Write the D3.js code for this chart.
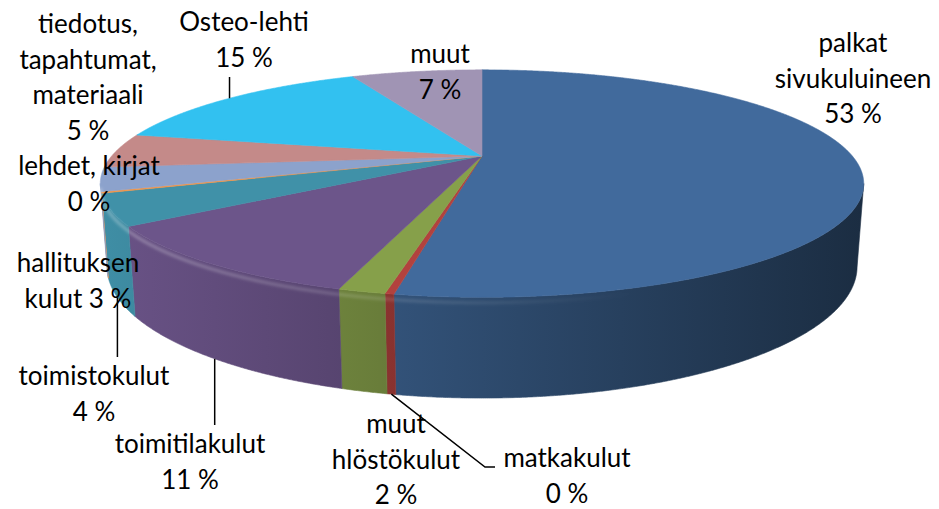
<!DOCTYPE html>
<html>
<head>
<meta charset="utf-8">
<script src="https://cdn.jsdelivr.net/npm/d3@7"></script>
<style>
  body { margin: 0; background: #fff; }
  svg { display: block; }
  text { font-family: Lato, "Open Sans", sans-serif; font-size: 26px; fill: #000; }
</style>
</head>
<body>
<svg></svg>
<script>
// data (clockwise from 12 o'clock, as in the Excel chart)
const categories = ["palkat sivukuluineen", "matkakulut", "muut hlöstökulut", "toimitilakulut",
  "toimistokulut", "lehdet, kirjat", "hallituksen kulut", "tiedotus, tapahtumat, materiaali",
  "Osteo-lehti", "muut"];
const values = [52.9, 0.3, 1.6, 10.6, 4.4, 0.2, 3.4, 4.9, 14.7, 7.0];
const colors = ["#416a9c", "#b2423e", "#86a04a", "#6c558a", "#4091a8", "#f79646",
  "#8ca2cc", "#c48a89", "#32c1f0", "#a094b4"];

// label wrapping as in the picture
const labelLines = [
  ["palkat", "sivukuluineen"], ["matkakulut"], ["muut", "hlöstökulut"], ["toimitilakulut"],
  ["toimistokulut"], ["lehdet, kirjat"], ["hallituksen", "kulut"],
  ["tiedotus,", "tapahtumat,", "materiaali"], ["Osteo-lehti"], ["muut"]
];

const w = 939, h = 509;
const svg = d3.select("svg").attr("width", w).attr("height", h);
const defs = svg.append("defs");

// perspective view of the pie
const cx = 482, cy = 156, F = 1462, D = 3.948;
const tilt = 16.8 * Math.PI / 180;
const s = Math.sin(tilt), c = Math.cos(tilt);
const H = 0.2267; // thickness, in radius units

function project(theta, y) {
  const x = Math.sin(theta), z = Math.cos(theta);
  const depth = D + c * z - s * y;
  return [cx + F * x / depth, cy - F * (c * y + s * z) / depth];
}
function rim(a0, a1, y) {
  const n = Math.max(2, Math.ceil((a1 - a0) / 0.004));
  return d3.range(n + 1).map(i => project(a0 + (a1 - a0) * i / n, y));
}

const data = categories.map((name, i) => ({ name: name, value: values[i], color: colors[i], lines: labelLines[i] }));
const total = d3.sum(values);
const arcs = d3.pie().sort(null).value(d => d.value)(data);

const line = d3.line();
const vis0 = Math.acos(-c / D), vis1 = 2 * Math.PI - vis0;

// shading of the side wall, lighter on the left
const shade = d3.scaleLinear().domain([100, 380, 862]).range([0.98, 0.78, 0.42]);
arcs.forEach((a, i) => {
  const g = defs.append("linearGradient").attr("id", "wall" + i)
    .attr("gradientUnits", "userSpaceOnUse")
    .attr("x1", 100).attr("x2", 862).attr("y1", 0).attr("y2", 0);
  const col = d3.rgb(a.data.color);
  [100, 380, 862].forEach(px => {
    const k = shade(px);
    g.append("stop").attr("offset", (px - 100) / 762)
      .attr("stop-color", d3.rgb(col.r * k, col.g * k, col.b * k));
  });
});

const hi = defs.append("linearGradient").attr("id", "rimHi")
  .attr("gradientUnits", "userSpaceOnUse").attr("x1", 100).attr("x2", 862).attr("y1", 0).attr("y2", 0);
hi.append("stop").attr("offset", 0).attr("stop-color", "#fff").attr("stop-opacity", 0.3);
hi.append("stop").attr("offset", 0.45).attr("stop-color", "#fff").attr("stop-opacity", 0.12);
hi.append("stop").attr("offset", 0.7).attr("stop-color", "#fff").attr("stop-opacity", 0);
defs.append("filter").attr("id", "blur").append("feGaussianBlur").attr("stdDeviation", 1.5);

// side walls
const walls = svg.append("g");
arcs.forEach((a, i) => {
  const a0 = Math.max(a.startAngle, vis0), a1 = Math.min(a.endAngle, vis1);
  if (a1 <= a0) return;
  const pts = rim(a0, a1, 0).concat(rim(a0, a1, -H).reverse());
  walls.append("path").attr("d", line(pts) + "Z")
    .attr("fill", "url(#wall" + i + ")")
    .attr("stroke", "url(#wall" + i + ")").attr("stroke-width", 0.6);
});

// top faces
const tops = svg.append("g");
arcs.forEach(a => {
  const pts = [[cx, cy]].concat(rim(a.startAngle, a.endAngle, 0));
  tops.append("path").attr("d", line(pts) + "Z")
    .attr("fill", a.data.color).attr("stroke", a.data.color).attr("stroke-width", 0.6);
});

// soft highlight along the front edge
svg.append("path").attr("d", line(rim(vis0, vis1, -0.012)))
  .attr("fill", "none").attr("stroke", "url(#rimHi)").attr("stroke-width", 3)
  .attr("filter", "url(#blur)");

// label placement (x centre, first baseline), leader ends
const labelPos = [
  { x: 853, y: 52 },
  { x: 567, y: 467, leader: [[485, 467], [495, 467]] },
  { x: 396, y: 433 },
  { x: 190, y: 453, leader: [[null, 425]] },
  { x: 94, y: 385, leader: [[null, 357]] },
  { x: 89, y: 175 },
  { x: 78, y: 272, inline: true },
  { x: 88, y: 33 },
  { x: 244, y: 31, leader: [[null, 77]] },
  { x: 440, y: 63 }
];
const lh = 35.5;

const leaders = svg.append("g").attr("fill", "none").attr("stroke", "#000").attr("stroke-width", 1.5);
const labels = svg.append("g").attr("text-anchor", "middle");
arcs.forEach((a, i) => {
  const pos = labelPos[i];
  const pct = Math.round(a.data.value / total * 100) + " %";
  const lines = a.data.lines.slice();
  if (pos.inline) lines[lines.length - 1] += " " + pct; else lines.push(pct);
  const t = labels.append("text").attr("x", pos.x).attr("y", pos.y);
  lines.forEach((l, j) => {
    t.append("tspan").attr("x", pos.x).attr("y", pos.y + j * lh).text(l);
  });
  if (pos.leader) {
    const mid = (a.startAngle + a.endAngle) / 2;
    const front = Math.cos(mid) < 0;
    const p0 = project(mid, front ? -H : 0);
    const pts = [p0].concat(pos.leader.map(p => [p[0] === null ? p0[0] : p[0], p[1]]));
    leaders.append("path").attr("d", line(pts));
  }
});
</script>
</body>
</html>
